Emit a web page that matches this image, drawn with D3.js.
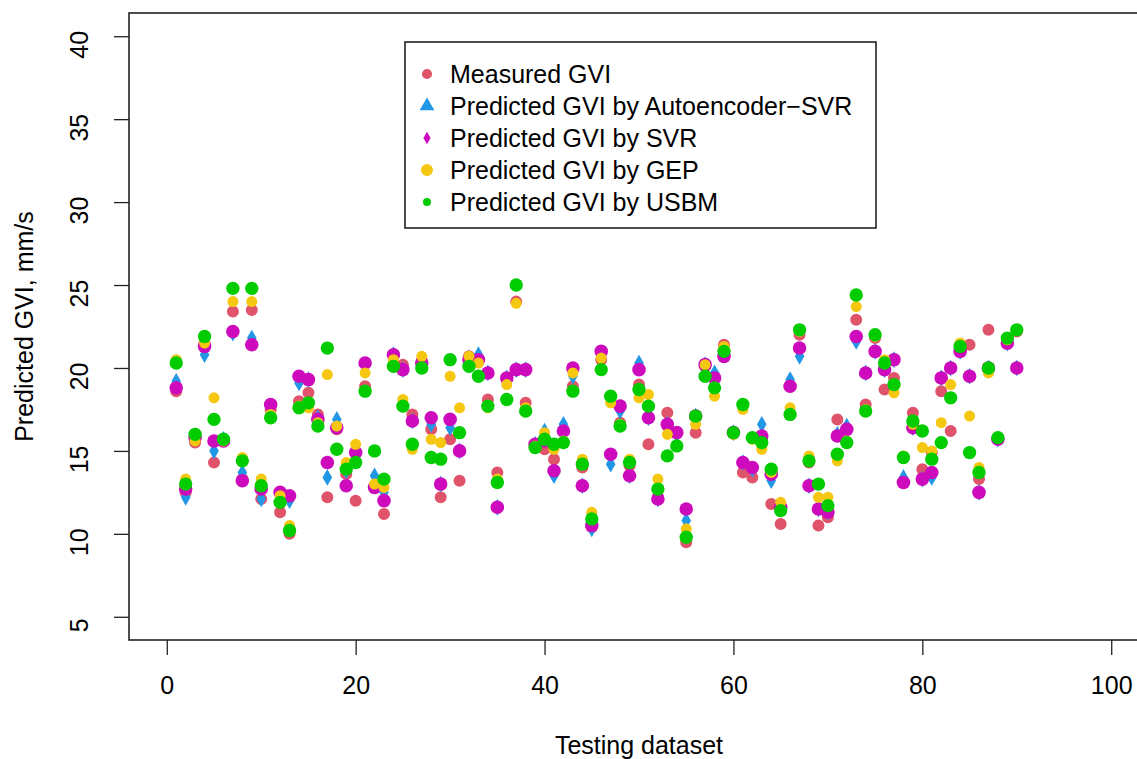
<!DOCTYPE html>
<html>
<head>
<meta charset="utf-8">
<script src="https://cdn.jsdelivr.net/npm/d3@7"></script>
<style>
	body {margin: 0; background: #fff;}
	text {font-family: "Liberation Sans", Arial, sans-serif; fill: #000;}
</style>
</head>
<body>
<svg width="1137" height="759"></svg>
<script>
'use strict';
// series values, one per testing sample (1..90)
let measured = [18.6,12.5,15.5,21.5,14.3,15.6,23.4,13.3,23.5,12.1,17.5,11.3,10.0,18.0,18.5,17.2,12.2,16.3,13.6,12.0,
	18.9,12.9,11.2,20.7,20.2,17.2,20.4,16.3,12.2,15.7,13.2,20.7,20.4,18.1,13.7,19.3,24.0,17.9,15.4,15.1,
	14.5,15.5,18.9,14.0,10.4,20.5,14.8,16.7,14.1,19.0,15.4,12.2,17.3,16.1,9.5,16.1,20.1,19.4,21.4,16.1,
	13.7,13.4,15.8,11.8,10.6,18.9,22.0,14.3,10.5,11.0,16.9,16.3,22.9,17.8,21.8,18.7,19.4,13.1,17.3,13.9,
	14.9,18.6,16.2,21.4,21.4,13.3,22.3,15.7,21.7,22.2]
let autoSvr = [19.2,12.2,15.8,20.8,15.0,15.7,22.1,13.7,21.8,12.1,17.6,12.4,12.0,19.1,19.3,17.0,13.4,16.9,13.8,14.9,
	20.2,13.5,12.5,20.8,19.9,16.8,20.3,16.6,13.0,16.4,15.0,20.6,20.8,19.7,11.6,19.4,19.9,19.9,15.4,16.2,
	13.5,16.6,19.5,12.9,10.3,20.9,14.2,17.4,13.5,20.3,17.0,12.1,16.6,16.0,10.8,17.1,20.2,19.7,20.9,16.1,
	14.3,13.9,16.6,13.2,11.5,19.3,20.7,12.9,11.5,11.3,16.0,16.5,21.6,19.7,21.0,19.9,20.5,13.4,16.4,13.3,
	13.4,19.4,20.0,21.0,19.5,12.5,20.0,15.7,21.5,20.0]
let svr = [18.8,12.7,15.8,21.3,15.6,15.6,22.2,13.2,21.4,12.7,17.8,12.5,12.3,19.5,19.3,16.9,14.3,16.4,12.9,14.9,
	20.3,12.8,12.0,20.8,19.9,16.8,20.3,17.0,13.0,16.9,15.0,20.5,20.5,19.7,11.6,19.4,19.9,19.9,15.4,15.6,
	13.8,16.2,20.0,12.9,10.5,21.0,14.8,17.7,13.5,19.9,17.0,12.1,16.6,16.1,11.5,17.1,20.2,19.4,20.7,16.1,
	14.3,14.0,15.9,13.6,11.6,18.9,21.2,12.9,11.5,11.3,15.9,16.3,21.9,19.7,21.0,19.9,20.5,13.1,16.4,13.3,
	13.7,19.4,20.0,21.0,19.5,12.5,20.0,15.7,21.5,20.0]
let gep = [20.5,13.3,15.6,21.5,18.2,15.6,24.0,14.6,24.0,13.3,17.2,12.3,10.5,17.7,17.6,16.7,19.6,16.5,14.3,15.4,
	19.7,13.0,12.8,20.5,18.1,15.1,20.7,15.7,15.5,19.5,17.6,20.7,20.3,17.6,13.3,19.0,23.9,17.6,15.3,16.1,
	15.1,15.6,19.7,14.5,11.3,20.6,17.9,16.6,14.5,18.2,18.4,13.3,16.0,15.3,10.3,16.6,20.2,18.3,21.3,16.0,
	17.5,15.7,15.1,13.7,11.9,17.6,22.2,14.7,12.2,12.2,14.4,15.6,23.7,17.5,21.9,20.5,18.5,14.7,16.6,15.2,
	15.0,16.7,19.0,21.5,17.1,14.0,19.7,15.8,21.7,22.3]
let usbm = [20.3,13.0,16.0,21.9,16.9,15.7,24.8,14.4,24.8,12.9,17.0,11.9,10.2,17.6,17.9,16.5,21.2,15.1,13.9,14.3,
	18.6,15.0,13.3,20.1,17.7,15.4,20.0,14.6,14.5,20.5,16.1,20.1,19.5,17.7,13.1,18.1,25.0,17.4,15.2,15.7,
	15.4,15.5,18.6,14.2,10.9,19.9,18.3,16.5,14.3,18.7,17.7,12.7,14.7,15.3,9.8,17.1,19.5,18.8,21.0,16.1,
	17.8,15.8,15.5,13.9,11.4,17.2,22.3,14.4,13.0,11.7,14.8,15.5,24.4,17.4,22.0,20.3,19.0,14.6,16.8,16.2,
	14.5,15.5,18.2,21.3,14.9,13.7,20.0,15.8,21.8,22.3]

let xTicks = [0, 20, 40, 60, 80, 100]
let yTicks = [5, 10, 15, 20, 25, 30, 35, 40]

let legendLabels = ["Measured GVI", "Predicted GVI by Autoencoder\u2212SVR", "Predicted GVI by SVR",
	"Predicted GVI by GEP", "Predicted GVI by USBM"]

// drawing order: measured first, usbm last (on top)
let dSeries = [
	{name: legendLabels[0], vals: measured, col: "#DF536B", shape: d3.symbolCircle, size: 113, legShape: d3.symbolCircle, legSize: 80},
	{name: legendLabels[1], vals: autoSvr, col: "#2297E6", shape: d3.symbolDiamond, size: 80, legShape: d3.symbolTriangle, legSize: 95},
	{name: legendLabels[2], vals: svr, col: "#CD0BBC", shape: d3.symbolCircle, size: 145, legShape: d3.symbolDiamond, legSize: 45},
	{name: legendLabels[3], vals: gep, col: "#F5C710", shape: d3.symbolCircle, size: 95, legShape: d3.symbolCircle, legSize: 113},
	{name: legendLabels[4], vals: usbm, col: "#00CC00", shape: d3.symbolCircle, size: 140, legShape: d3.symbolCircle, legSize: 50}]

let eSvg = d3.select("svg")

// plot region (R style: 4% extension around the limits)
let box = {left: 129, right: 1149, top: 13, bottom: 640}
let xScale = d3.scaleLinear().domain([-4, 104]).range([box.left, box.right])
let yScale = d3.scaleLinear().domain([3.6, 41.4]).range([box.bottom, box.top])

// points
dSeries.forEach(s => {
	eSvg.append("g")
		.selectAll("path")
		.data(s.vals)
		.enter()
		.append("path")
		.attr("d", d3.symbol().type(s.shape).size(s.size))
		.attr("transform", (d, i) => {return `translate(${xScale(i + 1)},${yScale(d)})`})
		.attr("fill", s.col)})

// frame
eSvg.append("rect")
	.attr("x", box.left).attr("y", box.top)
	.attr("width", box.right - box.left).attr("height", box.bottom - box.top)
	.attr("fill", "none").attr("stroke", "#222").attr("stroke-width", 1.6)

// x axis
let gX = eSvg.append("g")
	.attr("transform", `translate(0,${box.bottom})`)
	.call(d3.axisBottom(xScale).tickValues(xTicks).tickSize(15).tickPadding(21))
gX.select(".domain").remove()
gX.selectAll("line").attr("stroke", "#222").attr("stroke-width", 1.3)
gX.selectAll("text").style("font-size", "25px").attr("font-family", null)

// y axis, labels rotated like R's default
let gY = eSvg.append("g")
	.attr("transform", `translate(${box.left},0)`)
	.call(d3.axisLeft(yScale).tickValues(yTicks).tickSize(15))
gY.select(".domain").remove()
gY.selectAll("line").attr("stroke", "#222").attr("stroke-width", 1.3)
gY.selectAll("text")
	.attr("x", null).attr("dy", null)
	.attr("text-anchor", "middle")
	.attr("transform", "translate(-41,8) rotate(-90)")
	.style("font-size", "25px")

eSvg.append("text")
	.attr("x", xScale(50)).attr("y", 754)
	.attr("text-anchor", "middle")
	.style("font-size", "25px")
	.text("Testing dataset")

eSvg.append("text")
	.attr("transform", `translate(33,${yScale(22.5)}) rotate(-90)`)
	.attr("text-anchor", "middle")
	.style("font-size", "25px")
	.text("Predicted GVI, mm/s")

// legend
let gLeg = eSvg.append("g").attr("transform", "translate(405,42)")
gLeg.append("rect")
	.attr("width", 471).attr("height", 186)
	.attr("fill", "#fff").attr("stroke", "#222").attr("stroke-width", 1.6)
let eItems = gLeg.selectAll("g.item")
	.data(dSeries)
	.enter()
	.append("g")
	.attr("class", "item")
	.attr("transform", (d, i) => {return `translate(0,${32 + i * 32})`})
eItems.append("path")
	.attr("d", d => {return d3.symbol().type(d.legShape).size(d.legSize)()})
	.attr("transform", "translate(22,0)")
	.attr("fill", d => {return d.col})
eItems.append("text")
	.attr("x", 45).attr("y", 9)
	.style("font-size", "25px")
	.text(d => {return d.name})
</script>
</body>
</html>
